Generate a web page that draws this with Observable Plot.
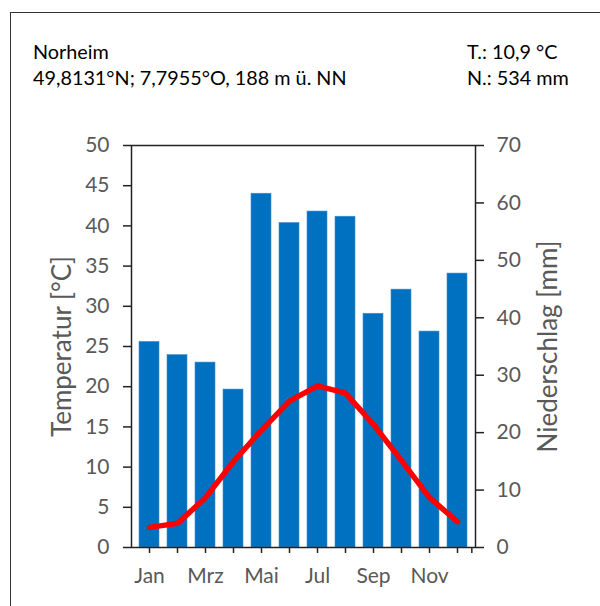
<!DOCTYPE html>
<html>
<head>
<meta charset="utf-8">
<script src="https://cdn.jsdelivr.net/npm/d3@7"></script>
<script src="https://cdn.jsdelivr.net/npm/@observablehq/plot@0.6"></script>
<style>
  html, body { margin: 0; padding: 0; background: #fff; }
  #wrap { position: relative; width: 600px; height: 606px; overflow: hidden; font-family: Lato, "Noto Sans", sans-serif; }
  #border { position: absolute; left: 10px; top: 12px; width: 620px; height: 620px; border-left: 1.5px solid #333; border-top: 1.5px solid #333; }
  .hdr { position: absolute; font-size: 19.8px; color: #000; white-space: nowrap; line-height: 1; }
  #chart { position: absolute; left: 0; top: 0; }
</style>
</head>
<body>
<div id="wrap">
  <div id="border"></div>
  <div id="chart"></div>
  <div class="hdr" style="left:33px; top:42px;">Norheim</div>
  <div class="hdr" style="left:33px; top:68px;">49,8131°N; 7,7955°O, 188 m ü. NN</div>
  <div class="hdr" style="left:467px; top:42px;">T.: 10,9 °C</div>
  <div class="hdr" style="left:467px; top:68px;">N.: 534 mm</div>
</div>
<script>
const months = ["Jan","Feb","Mrz","Apr","Mai","Jun","Jul","Aug","Sep","Okt","Nov","Dez"];
const shownMonths = ["Jan","Mrz","Mai","Jul","Sep","Nov"];
const temperature = [2.5, 3.0, 6.2, 10.7, 14.6, 18.2, 20.1, 19.2, 15.3, 10.8, 6.2, 3.2];
const precipitation = [35.8, 33.5, 32.2, 27.5, 61.6, 56.5, 58.5, 57.6, 40.7, 44.9, 37.6, 47.7];
const tempTicks = [0, 5, 10, 15, 20, 25, 30, 35, 40, 45, 50];
const precipTicks = [0, 10, 20, 30, 40, 50, 60, 70];
const tempMax = 50, precipMax = 70;
const k = tempMax / precipMax;

const table = months.map((m, i) => ({month: m, temp: temperature[i], precip: precipitation[i], precipScaled: precipitation[i] * k}));

const W = 600, H = 606;
const mL = 131, mR = 125, mT = 145, mB = 59;
const step = (W - mL - mR) / months.length;
const axisColor = "#222";
const textColor = "#595959";

const chart = Plot.plot({
  width: W,
  height: H,
  marginLeft: mL,
  marginRight: mR,
  marginTop: mT,
  marginBottom: mB,
  style: {fontFamily: "Lato, 'Noto Sans', sans-serif", fontSize: "21px", background: "transparent", overflow: "visible"},
  x: {type: "band", domain: months, paddingInner: 0.3, paddingOuter: 0.15, label: null},
  y: {domain: [0, tempMax], label: null},
  marks: [
    Plot.barY(table, {x: "month", y: "precipScaled", fill: "#0070C0", stroke: "#3d8fd0", strokeWidth: 0.6}),
    Plot.line(table, {x: "month", y: "temp", stroke: "#FF0000", strokeWidth: 5.5, strokeLinejoin: "round", strokeLinecap: "round"}),
    Plot.frame({stroke: axisColor, strokeWidth: 1.5}),
    Plot.axisY({anchor: "left", ticks: tempTicks, tickSize: 8, tickPadding: 14, stroke: axisColor, strokeWidth: 1.5, fill: textColor, fontSize: 21, label: null}),
    Plot.axisY({anchor: "right", ticks: precipTicks.map(v => v * k), tickFormat: d => String(Math.round(d / k)), tickSize: 8, tickPadding: 13, stroke: axisColor, strokeWidth: 1.5, fill: textColor, fontSize: 21, label: null}),
    Plot.axisX({anchor: "bottom", tickSize: 6, tickPadding: 15, tickFormat: d => shownMonths.includes(d) ? d : "", stroke: axisColor, strokeWidth: 1.5, fill: textColor, fontSize: 21, label: null}),
    Plot.ruleX([months[months.length - 1]], {x: d => d, dx: step / 2, y1: 0, y2: -6 / ((H - mT - mB) / tempMax), stroke: axisColor, strokeWidth: 1.5}),
    Plot.text(["Temperatur [°C]"], {frameAnchor: "left", textAnchor: "middle", text: d => d, rotate: -90, dx: -69, fill: textColor, fontSize: 26}),
    Plot.text(["Niederschlag [mm]"], {frameAnchor: "right", textAnchor: "middle", text: d => d, rotate: -90, dx: 73, fill: textColor, fontSize: 26})
  ]
});
document.getElementById("chart").appendChild(chart);
</script>
</body>
</html>
